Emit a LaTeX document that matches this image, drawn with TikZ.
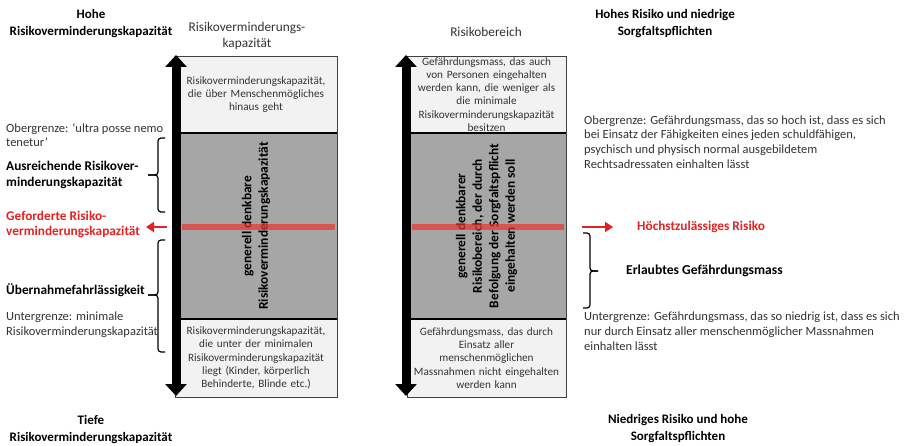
\documentclass[tikz,border=0pt]{standalone}
\usepackage{fontspec}
\setmainfont{Carlito}
\usetikzlibrary{arrows.meta}
\definecolor{boxgray}{HTML}{A6A6A6}
\definecolor{boxlight}{HTML}{F2F2F2}
\definecolor{txtgray}{HTML}{333333}
\definecolor{redtxt}{HTML}{E32222}
\definecolor{redbar}{RGB}{236,50,50}
\begin{document}
\begin{tikzpicture}[x=1pt,y=-1pt,
  lightsec/.style={draw=black!75, line width=0.8pt, fill=boxlight, inner ysep=0pt,
    align=center, text=txtgray, font=\fontsize{11.2}{13.3}\selectfont},
  graysec/.style={draw=black!75, line width=0.8pt, fill=boxgray, inner sep=0pt},
  divider/.style={line width=2pt, black},
  vtext/.style={rotate=90, align=center, font=\bfseries\fontsize{13.4}{16.5}\selectfont},
  headb/.style={align=center, font=\bfseries\fontsize{13}{17}\selectfont},
  headn/.style={align=center, text=txtgray, font=\fontsize{13.3}{16}\selectfont},
  side/.style={anchor=west, inner sep=0pt, align=left, text=txtgray, font=\fontsize{12.5}{14.8}\selectfont},
  sideb/.style={anchor=west, inner sep=0pt, align=left, font=\bfseries\fontsize{13.3}{15.5}\selectfont},
  sider/.style={sideb, text=redtxt},
  bigarrow/.style={line width=9pt, {Triangle[width=21pt,length=12pt]}-{Triangle[width=21pt,length=12pt]}},
  redarrow/.style={line width=2.5pt, redtxt, -{Triangle[width=10pt,length=8pt]}},
  redline/.style={line width=6pt, redbar, opacity=0.7},
  bracket/.style={line width=1.2pt, rounded corners=3pt}
]
\useasboundingbox[fill=white] (0,0) rectangle (904,446);

% ---------- left column box ----------
\node[lightsec, text width=150pt, inner xsep=6pt, minimum height=77pt] (L1) at (256,94.5)
  {Risikoverminderungskapazität,\\die über Menschenmögliches\\hinaus geht};
\node[graysec, minimum width=162pt, minimum height=186pt] (L2) at (256,226) {};
\node[lightsec, text width=150pt, inner xsep=6pt, minimum height=78pt] (L3) at (256,358)
  {Risikoverminderungskapazität,\\die unter der minimalen\\Risikoverminderungskapazität\\liegt (Kinder, körperlich\\Behinderte, Blinde etc.)};
\node[vtext] (LV) at (L2.center) {generell denkbare\\Risikoverminderungskapazität};
\draw[redline] (182,227) -- (335,227);
\draw[divider] (L1.south west) -- (L1.south east);
\draw[divider] (L3.north west) -- (L3.north east);
\coordinate (LAt) at (176,55);
\coordinate (LAb) at (176,396);
\draw[bigarrow] (LAb) -- (LAt);

% ---------- right column box ----------
\node[lightsec, text width=147pt, inner xsep=6pt, minimum height=77pt] (R1) at (486.5,94.5)
  {Gefährdungsmass, das auch\\von Personen eingehalten\\werden kann, die weniger als\\die minimale\\Risikoverminderungskapazität\\besitzen};
\node[graysec, minimum width=159pt, minimum height=186pt] (R2) at (486.5,226) {};
\node[lightsec, text width=147pt, inner xsep=6pt, minimum height=78pt] (R3) at (486.5,358)
  {Gefährdungsmass, das durch\\Einsatz aller\\menschenmöglichen\\Massnahmen nicht eingehalten\\werden kann};
\node[vtext] (RV) at (R2.center) {generell denkbarer\\Risikobereich, der durch\\Befolgung der Sorgfaltspflicht\\eingehalten werden soll};
\draw[redline] (412,227) -- (564,227);
\draw[divider] (R1.south west) -- (R1.south east);
\draw[divider] (R3.north west) -- (R3.north east);
\coordinate (RAt) at (406,55);
\coordinate (RAb) at (406,396);
\draw[bigarrow] (RAb) -- (RAt);

% ---------- headings ----------
\node[headb] (hohe) at (91,23.5) {Hohe\\Risikoverminderungskapazität};
\node[headn] (rmk) at (247,36) {Risikoverminderungs-\\kapazität};
\node[headn] (rb) at (486,32) {Risikobereich};
\node[headb] (hr) at (665,23.5) {Hohes Risiko und niedrige\\Sorgfaltspflichten};
\node[headb] (tiefe) at (91,429.5) {Tiefe\\Risikoverminderungskapazität};
\node[headb] (nr) at (678,428.5) {Niedriges Risiko und hohe\\Sorgfaltspflichten};

% ---------- left annotations ----------
\node[side] (ober) at (6,135) {Obergrenze: ‘ultra posse nemo\\tenetur’};
\node[sideb] (ausr) at (6,175) {Ausreichende Risikover-\\minderungskapazität};
\node[sider] (gef) at (6,224.5) {Geforderte Risiko-\\verminderungskapazität};
\node[sideb] (ueb) at (6,290) {Übernahmefahrlässigkeit};
\node[side] (unter) at (6,325) {Untergrenze: minimale\\Risikoverminderungskapazität};

\coordinate (la1) at (167,227);
\coordinate (la2) at (146,227);
\draw[redarrow] (la1) -- (la2);

\draw[bracket] (165,138) -- (158,138) -- (158,175) -- (148,175);
\draw[bracket] (165,212) -- (158,212) -- (158,175) -- (148,175);
\draw[bracket] (165,240) -- (158,240) -- (158,295) -- (148,295);
\draw[bracket] (165,352) -- (158,352) -- (158,295) -- (148,295);

% ---------- right annotations ----------
\node[side] (ober2) at (584,142) {Obergrenze: Gefährdungsmass, das so hoch ist, dass es sich\\bei Einsatz der Fähigkeiten eines jeden schuldfähigen,\\psychisch und physisch normal ausgebildetem\\Rechtsadressaten einhalten lässt};
\node[sider] (hzr) at (637,227) {Höchstzulässiges Risiko};
\node[sideb, font=\bfseries\fontsize{13.6}{16}\selectfont] (erl) at (626,271) {Erlaubtes Gefährdungsmass};
\node[side] (unter2) at (584,331.5) {Untergrenze: Gefährdungsmass, das so niedrig ist, dass es sich\\nur durch Einsatz aller menschenmöglicher Massnahmen\\einhalten lässt};

\coordinate (ra1) at (582,227);
\coordinate (ra2) at (613,227);
\draw[redarrow] (ra1) -- (ra2);

\draw[bracket] (583,233) -- (590,233) -- (590,271) -- (598,271);
\draw[bracket] (583,308) -- (590,308) -- (590,271) -- (598,271);
\end{tikzpicture}
\end{document}
